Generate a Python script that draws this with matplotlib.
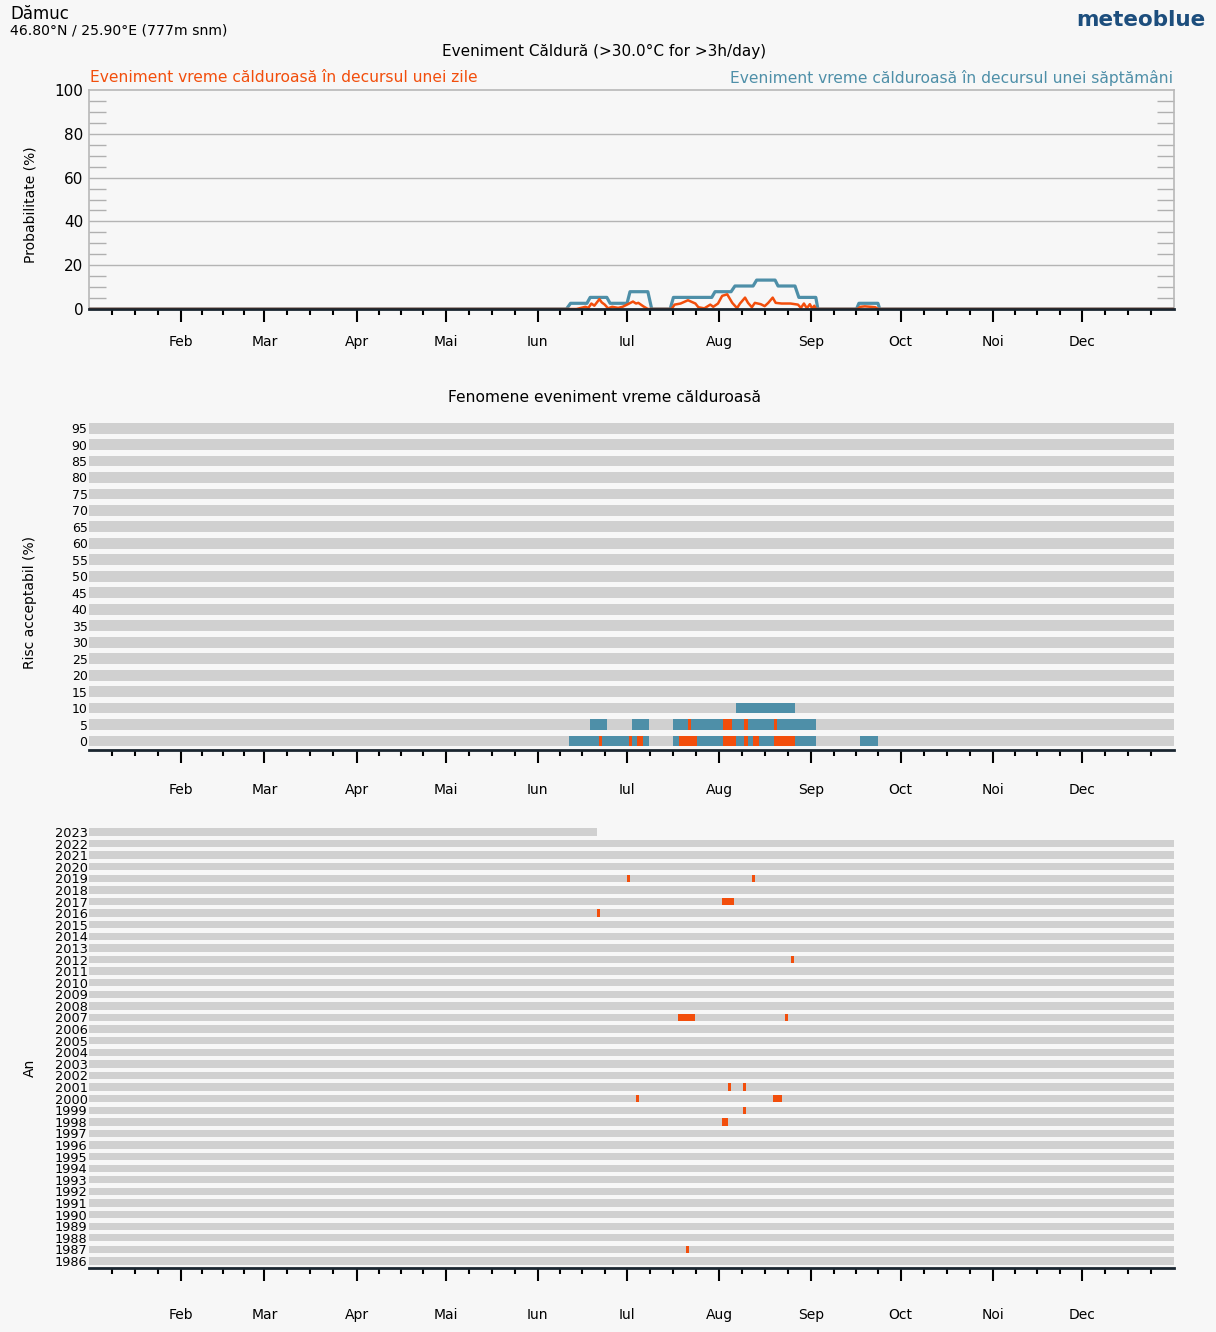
import matplotlib
matplotlib.use('Agg')
import matplotlib.pyplot as plt
from matplotlib.ticker import MultipleLocator
import numpy as np

plt.rcParams['font.family'] = ['DejaVu Sans']

# ---------------- data ----------------
month_lengths = [31, 28, 31, 30, 31, 30, 31, 31, 30, 31, 30, 31]
month_labels = ['Feb', 'Mar', 'Apr', 'Mai', 'Iun', 'Iul', 'Aug', 'Sep', 'Oct', 'Noi', 'Dec']

# weekly event probability (%), breakpoints (day of year, value)
week_days = [0, 160.6, 162, 167.5, 168.6, 174.2, 175.3, 181, 182, 188, 189.3, 195.5, 196.6,
             209.5, 210.6, 216, 217.3, 223.4, 224.6, 230.8, 231.8, 237.5, 238.8, 244.5, 245.2,
             258.2, 259, 265.4, 266, 365]
week_prob = [0, 0, 2.6, 2.6, 5.3, 5.3, 2.6, 2.6, 7.9, 7.9, 0, 0, 5.3,
             5.3, 7.9, 7.9, 10.5, 10.5, 13.2, 13.2, 10.5, 10.5, 5.3, 5.3, 0,
             0, 2.6, 2.6, 0, 0]

# daily event probability (%)
day_days = [0, 164, 165.5, 167, 168, 169, 170, 171.7, 172.5, 173.5, 174.6, 176, 178, 179.5,
            181, 183, 184, 184.8, 186.5, 188, 196, 197, 199, 201.5, 204, 205, 207, 209, 210,
            211.6, 213, 214.7, 216.4, 218, 219, 220.7, 221.7, 223, 224, 226, 227.3, 228.5,
            230, 231, 233, 236, 238.5, 239.5, 240.5, 241.5, 242.5, 243.3, 244, 244.5,
            258.5, 259.5, 261, 263, 264.5, 265.5, 365]
day_prob = [0, 0, 0.5, 1, 0.5, 2.5, 1.5, 4.5, 3, 2, 0.3, 1, 0.5, 1,
            2, 3.4, 2.5, 2.8, 1.2, 0, 0, 2, 2.5, 4, 2.5, 0.8, 0.3, 2, 1,
            2.5, 6, 6.7, 2.8, 0.4, 2.5, 5.2, 2.8, 0.8, 2.8, 2.2, 1.3, 2.8,
            5.2, 2.8, 2.5, 2.5, 2, 0.5, 2.5, 0.3, 2.2, 0.2, 1.5, 0,
            0, 1, 1.2, 1, 0.8, 0, 0]

# middle panel: accepted risk levels and periods
risk_levels = list(range(0, 100, 5))
week_periods = {0: [(161.6, 188.5), (196.4, 244.5), (259.3, 265.5)],
                5: [(168.4, 174.4), (182.6, 188.5), (196.4, 244.5)],
                10: [(217.6, 237.5)]}
day_periods = {0: [(171.4, 172.6), (181.5, 182.6), (184.5, 186.5), (198.6, 204.6),
                   (213.4, 217.6), (220.4, 221.6), (223.5, 225.5), (230.5, 237.6)],
               5: [(201.5, 202.6), (213.4, 216.4), (220.5, 221.6), (230.5, 231.6)]}

# bottom panel: years and event days (start day, number of days)
years = list(range(1986, 2024))
last_day_2023 = 171
year_events = {2019: [(181, 1), (223, 1)], 2017: [(213, 4)], 2016: [(171, 1)],
               2012: [(236, 1)], 2007: [(198, 6), (234, 1)], 2001: [(215, 1), (220, 1)],
               2000: [(184, 1), (230, 3)], 1999: [(220, 1)], 1998: [(213, 2)],
               1987: [(201, 1)]}

# ---------------- style ----------------
W, H = 1216, 1332
BG = '#f7f7f7'
ORANGE = '#F24E0C'
BLUE = '#4E8FA8'
BAND = '#d0d0d0'

fig = plt.figure(figsize=(W / 100, H / 100), dpi=100, facecolor=BG)


def rect(l, t, r, b):
    return [l / W, 1 - b / H, (r - l) / W, (b - t) / H]


starts = np.cumsum([0] + month_lengths[:-1])
major = list(starts[1:])
minor = [s + L * k / 4 for s, L in zip(starts, month_lengths) for k in (1, 2, 3)]


def style_x(ax, pad):
    ax.set_xlim(0, 365)
    ax.set_xticks(major)
    ax.set_xticklabels(month_labels)
    ax.set_xticks(minor, minor=True)
    ax.tick_params(axis='x', which='major', direction='out', length=9, width=1.5,
                   color='black', pad=pad, labelsize=10)
    ax.tick_params(axis='x', which='minor', direction='out', length=4, width=1.5,
                   color='black')
    ax.spines['bottom'].set_color('#1a2630')
    ax.spines['bottom'].set_linewidth(2)
    ax.spines['bottom'].set_zorder(10)


# ---------------- top panel ----------------
ax1 = fig.add_axes(rect(89, 90, 1174, 309), facecolor=BG)
ax1.set_ylim(0, 100)
ax1.set_yticks([0, 20, 40, 60, 80, 100])
ax1.yaxis.set_minor_locator(MultipleLocator(5))
ax1.tick_params(axis='y', which='major', length=0, pad=4, labelsize=11)
ax1.tick_params(axis='y', which='minor', direction='in', length=12, width=1,
                color='#b0b0b0', left=True, right=True)
for v in [20, 40, 60, 80]:
    ax1.axhline(v, color='#b4b4b4', lw=1, zorder=1)
for s in ['left', 'top', 'right']:
    ax1.spines[s].set_color('#b8b8b8')
    ax1.spines[s].set_linewidth(1.2)
ax1.plot(week_days, week_prob, color=BLUE, lw=2.3, zorder=3)
ax1.plot(day_days, day_prob, color=ORANGE, lw=1.8, zorder=4)
style_x(ax1, 9.5)

# ---------------- middle panel ----------------
ax2 = fig.add_axes(rect(89, 420, 1174, 749.5), facecolor=BG)
ax2.set_ylim(-0.516, 19.49)
bh = 0.66
ax2.barh(range(len(risk_levels)), [365] * len(risk_levels), left=0, height=bh,
         color=BAND, zorder=1)
for i, lvl in enumerate(risk_levels):
    for a, b in week_periods.get(lvl, []):
        ax2.barh(i, b - a, left=a, height=bh, color=BLUE, zorder=2)
    for a, b in day_periods.get(lvl, []):
        ax2.barh(i, b - a, left=a, height=bh, color=ORANGE, zorder=3)
ax2.set_yticks(range(len(risk_levels)))
ax2.set_yticklabels([str(v) for v in risk_levels])
ax2.tick_params(axis='y', length=0, pad=1, labelsize=9)
for s in ['left', 'top', 'right']:
    ax2.spines[s].set_visible(False)
style_x(ax2, 15)

# ---------------- bottom panel ----------------
ax3 = fig.add_axes(rect(89, 825, 1174, 1268), facecolor=BG)
ax3.set_ylim(-0.604, 37.6)
bh3 = 0.63
for j, yr in enumerate(years):
    end = last_day_2023 if yr == 2023 else 365
    ax3.barh(j, end, left=0, height=bh3, color=BAND, zorder=1)
    for st, n in year_events.get(yr, []):
        ax3.barh(j, n, left=st, height=bh3, color=ORANGE, zorder=2)
ax3.set_yticks(range(len(years)))
ax3.set_yticklabels([str(y) for y in years])
ax3.tick_params(axis='y', length=0, pad=1, labelsize=9.3)
for s in ['left', 'top', 'right']:
    ax3.spines[s].set_visible(False)
style_x(ax3, 20)

# ---------------- texts ----------------
def ftext(x, y, s, **kw):
    fig.text(x / W, 1 - y / H, s, **kw)


ftext(10, 14, 'Dămuc', fontsize=12, va='center', ha='left')
ftext(10, 31, '46.80°N / 25.90°E (777m snm)', fontsize=10.1, va='center', ha='left')
ftext(1205, 20, 'meteoblue', fontsize=15.5, fontweight='bold', color='#1d4e7d',
      va='center', ha='right')
ftext(604, 51, 'Eveniment Căldură (>30.0°C for >3h/day)', fontsize=11,
      va='center', ha='center')
ftext(90, 78, 'Eveniment vreme călduroasă în decursul unei zile', fontsize=11.15,
      color=ORANGE, va='center', ha='left')
ftext(1173, 78, 'Eveniment vreme călduroasă în decursul unei săptămâni', fontsize=11.15,
      color=BLUE, va='center', ha='right')
ftext(604, 398, 'Fenomene eveniment vreme călduroasă', fontsize=11.2,
      va='center', ha='center')
ftext(30, 205, 'Probabilitate (%)', fontsize=10, rotation=90, va='center', ha='center')
ftext(30, 603, 'Risc acceptabil (%)', fontsize=10, rotation=90, va='center', ha='center')
ftext(30, 1068, 'An', fontsize=10, rotation=90, va='center', ha='center')

fig.savefig('out.png', dpi=100, facecolor=BG)
